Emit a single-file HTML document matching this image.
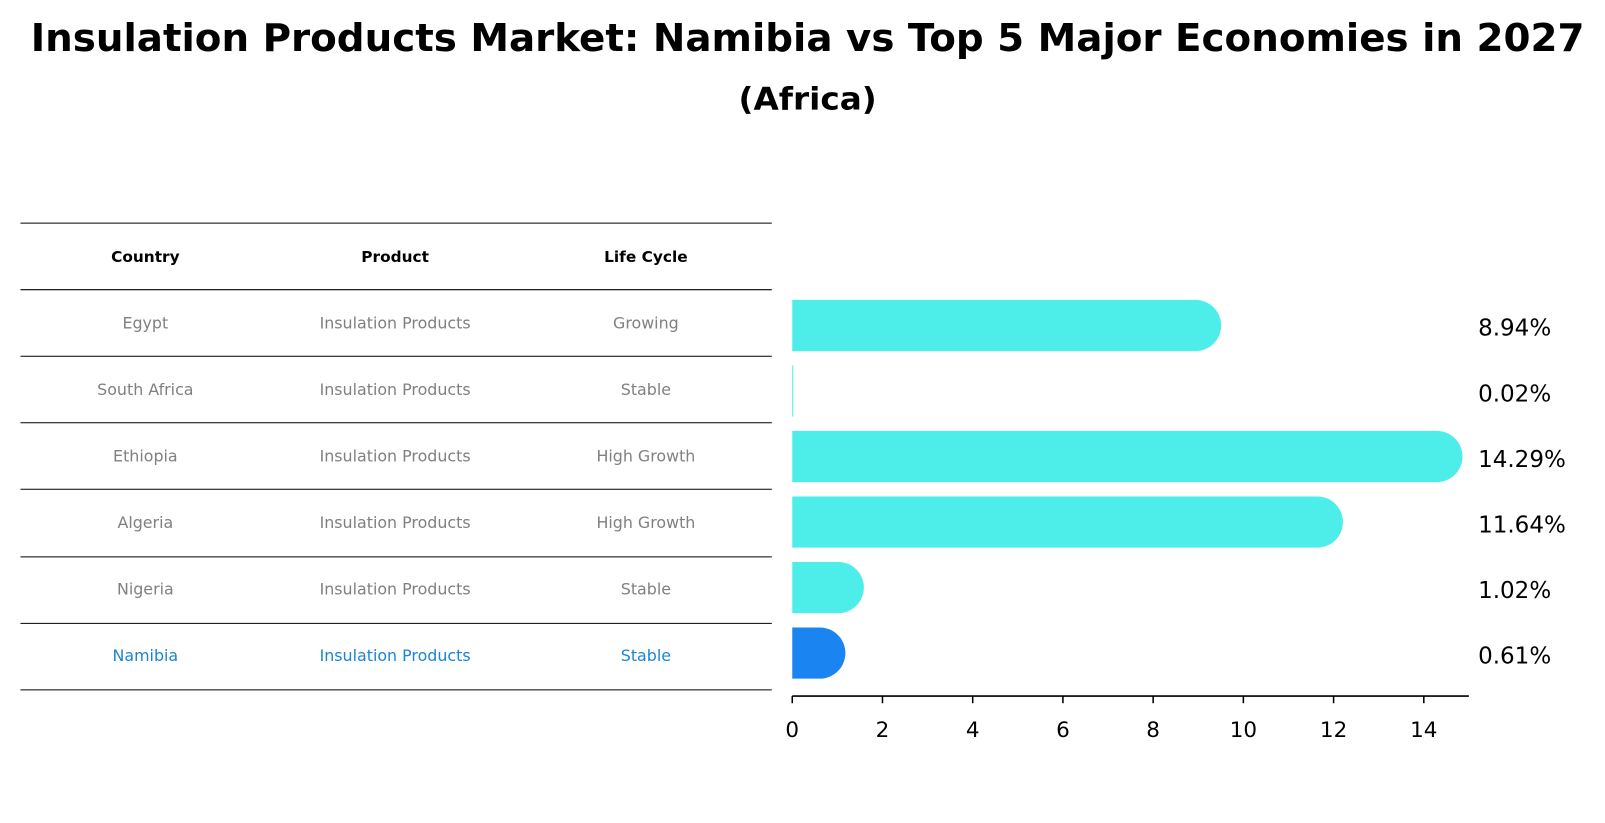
<!DOCTYPE html>
<html><head><meta charset="utf-8"><style>
body{margin:0;background:#fff;font-family:"Liberation Sans","DejaVu Sans",sans-serif;}
svg{display:block}
</style></head><body>
<svg width="1605" height="823" xmlns="http://www.w3.org/2000/svg">
<g transform="scale(1.0236)">
<text x="789" y="50" text-anchor="middle" font-family="DejaVu Sans, sans-serif" font-weight="bold" font-size="37" textLength="1518" lengthAdjust="spacingAndGlyphs">Insulation Products Market: Namibia vs Top 5 Major Economies in 2027</text>
<text x="789" y="107" text-anchor="middle" font-family="DejaVu Sans, sans-serif" font-weight="bold" font-size="30" textLength="135" lengthAdjust="spacingAndGlyphs">(Africa)</text>
<g id="table"></g>
<g id="bars"></g>
<g id="axis"></g>
</g>
</svg>
<script>
const countries=["Egypt","South Africa","Ethiopia","Algeria","Nigeria","Namibia"];
const products=["Insulation Products","Insulation Products","Insulation Products","Insulation Products","Insulation Products","Insulation Products"];
const lifeCycles=["Growing","Stable","High Growth","High Growth","Stable","Stable"];
const values=[8.94,0.02,14.29,11.64,1.02,0.61];
const xTicks=[0,2,4,6,8,10,12,14];
const NS="http://www.w3.org/2000/svg";
function mk(tag,attrs,parent,txt){const e=document.createElementNS(NS,tag);for(const k in attrs)e.setAttribute(k,attrs[k]);if(txt!==undefined)e.textContent=txt;parent.appendChild(e);return e;}
const x=v=>774+v*44.07;
const rowY=i=>318+i*64;
const table=document.getElementById('table');
const lineYs=[218,283,348,413,478,544,609,674];
lineYs.forEach((y,i)=>{const l=mk('line',{x1:20,x2:754,y1:y,y2:y,stroke:'#000','stroke-width':1},table);

});
const colX=[142,386,631];
["Country","Product","Life Cycle"].forEach((h,j)=>{const t=mk('text',{x:colX[j],y:256,'text-anchor':'middle','font-family':'DejaVu Sans, sans-serif','font-weight':'bold','font-size':15},table,h);

});
countries.forEach((c,i)=>{const col=i===countries.length-1?'#1a85d6':'#808080';const y=321+i*65;
[c,products[i],lifeCycles[i]].forEach((s,j)=>{const t=mk('text',{x:colX[j],y:y,'text-anchor':'middle','font-family':'DejaVu Sans, sans-serif','font-size':15.5,fill:col},table,s);

});});
const bars=document.getElementById('bars');
values.forEach((v,i)=>{const cy=rowY(i);const col=i===values.length-1?'#1a85f0':'#4deeea';const r=25;const xe=x(v);
let d;if(v<0.1){d=`M${x(0)},${cy-r}h${Math.max(xe-x(0),1)}v${2*r}h${-Math.max(xe-x(0),1)}z`;}
else d=`M${x(0)},${cy-r}H${xe}A${r},${r} 0 0 1 ${xe},${cy+r}H${x(0)}Z`;
const p=mk('path',{d:d,fill:col},bars);


const t=mk('text',{x:1444,y:cy+10,'font-family':'DejaVu Sans, sans-serif','font-size':22.5},bars,v.toFixed(2)+'%');

});
const axis=document.getElementById('axis');
mk('line',{x1:774,x2:1435,y1:680,y2:680,stroke:'#000','stroke-width':1.5},axis);
xTicks.forEach(v=>{const l=mk('line',{x1:x(v),x2:x(v),y1:680,y2:687,stroke:'#000','stroke-width':1.5},axis);


const t=mk('text',{x:x(v),y:720,'text-anchor':'middle','font-family':'DejaVu Sans, sans-serif','font-size':21},axis,String(v));

});
</script>
</body></html>
